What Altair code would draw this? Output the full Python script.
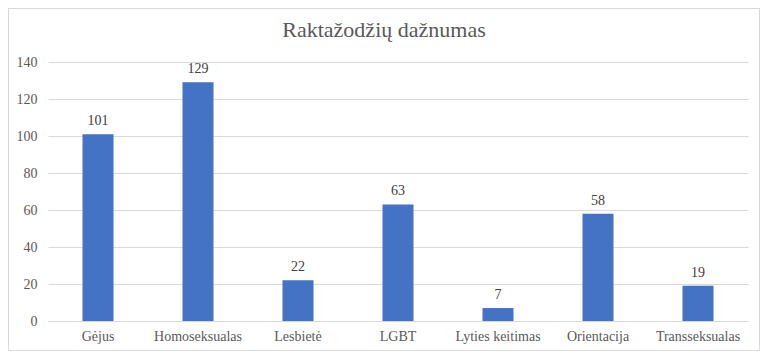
import altair as alt
import pandas as pd

categories = ["Gėjus", "Homoseksualas", "Lesbietė", "LGBT", "Lyties keitimas", "Orientacija", "Transseksualas"]
values = [101, 129, 22, 63, 7, 58, 19]
title_text = "Raktažodžių dažnumas"

df = pd.DataFrame({"cat": categories, "val": values})

FONT = "'Times New Roman', 'Liberation Serif', Tinos, serif"

base = alt.Chart(df).encode(
    x=alt.X("cat:N", sort=categories, title=None,
            scale=alt.Scale(paddingInner=0.69, paddingOuter=0.345),
            axis=alt.Axis(labelAngle=0, ticks=False, domainColor="#d9d9d9",
                          labelFont=FONT, labelFontSize=14, labelColor="#595959",
                          labelPadding=8)),
    y=alt.Y("val:Q", title=None,
            scale=alt.Scale(domain=[0, 140]),
            axis=alt.Axis(values=[0, 20, 40, 60, 80, 100, 120, 140], ticks=False,
                          domain=False, gridColor="#d9d9d9", labelFont=FONT,
                          labelFontSize=14, labelColor="#595959", labelPadding=11)),
)

bars = base.mark_bar(color="#4472C4")
labels = base.mark_text(dy=-13, font=FONT, fontSize=14, color="#404040").encode(text="val:Q")

border = alt.Chart(df).mark_rect(fill=None, stroke="#d9d9d9", strokeWidth=1).encode(
    x=alt.value(-39.5), x2=alt.value(711.5), y=alt.value(-53.5), y2=alt.value(288.5)
)

title = alt.Chart(pd.DataFrame({"t": [title_text]})).mark_text(
    font=FONT, fontSize=22, color="#595959", align="center", baseline="alphabetic"
).encode(text="t:N", x=alt.value(336), y=alt.value(-25))

chart = alt.layer(border, bars, labels, title).properties(
    width=700, height=259,
    padding={"left": 40, "top": 54, "right": 12, "bottom": 30},
    autosize=alt.AutoSizeParams(type="none"),
).configure_view(stroke=None)

chart.save("out.html", embed_options={"renderer": "svg", "actions": False})
